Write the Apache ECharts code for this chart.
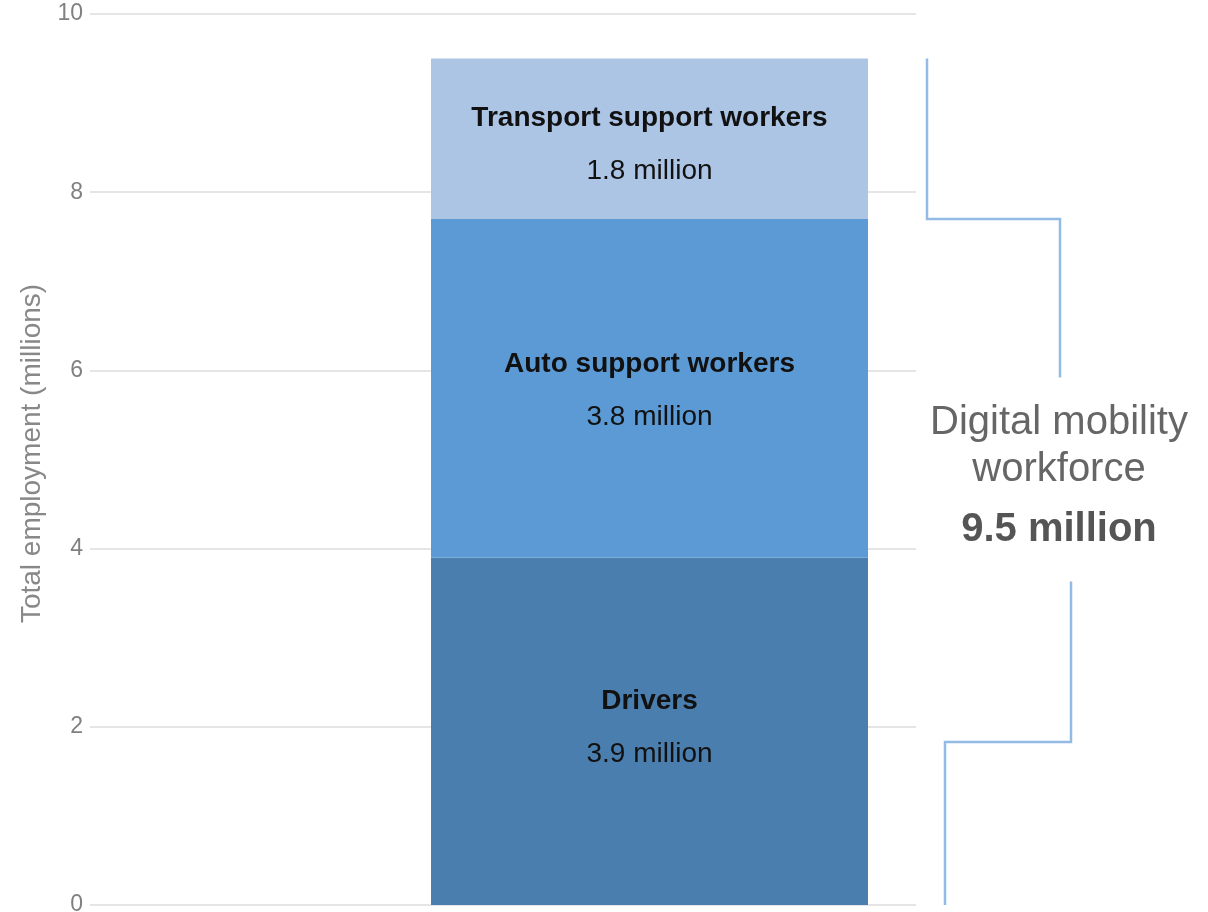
<!DOCTYPE html>
<html>
<head>
<meta charset="utf-8">
<script src="https://cdn.jsdelivr.net/npm/echarts@6/dist/echarts.min.js"></script>
<style>
  html, body { margin: 0; padding: 0; background: #fff; }
  #main { width: 1208px; height: 912px; }
</style>
</head>
<body>
<div id="main"></div>
<script>
// data
var categories = ['Digital mobility workforce'];
var seriesNames = ['Drivers', 'Auto support workers', 'Transport support workers'];
var driversValues = [3.9];
var autoValues = [3.8];
var transportValues = [1.8];
var yMin = 0, yMax = 10, yStep = 2;

var colors = ['#4a7eae', '#5b9ad5', '#adc5e5'];
var fontFam = '"Liberation Sans", Arial, sans-serif';
var total = driversValues[0] + autoValues[0] + transportValues[0];

function makeSeries(name, values, color, labelShift) {
    return {
        name: name,
        type: 'bar',
        stack: 'total',
        xAxisIndex: 1,
        yAxisIndex: 1,
        barWidth: '100%',
        data: values,
        itemStyle: { color: color },
        label: {
            show: true,
            position: 'inside',
            offset: [0, labelShift],
            formatter: function (p) {
                return '{n|' + p.seriesName + '}\n{v|' + p.value + ' million}';
            },
            rich: {
                n: { fontFamily: fontFam, fontSize: 28, fontWeight: 'bold', color: '#111', lineHeight: 53 },
                v: { fontFamily: fontFam, fontSize: 28, color: '#111', lineHeight: 53 }
            }
        },
        silent: true
    };
}

var chart = echarts.init(document.getElementById('main'));
var option = {
    animation: false,
    backgroundColor: '#fff',
    grid: [
        { left: 90, right: 292, top: 14, bottom: 7, outerBoundsMode: 'none' },
        { left: 431, right: 340, top: 14, bottom: 7, outerBoundsMode: 'none' }
    ],
    xAxis: [
        { gridIndex: 0, type: 'category', data: categories, show: false },
        { gridIndex: 1, type: 'category', data: categories, show: false }
    ],
    yAxis: [
        {
            gridIndex: 0,
            type: 'value',
            min: yMin, max: yMax, interval: yStep,
            name: 'Total employment (millions)',
            nameLocation: 'middle',
            nameGap: 42,
            nameTextStyle: { fontFamily: fontFam, fontSize: 28, color: '#888', padding: [0, 0, 0, 12] },
            axisLine: { show: false },
            axisTick: { show: false },
            axisLabel: { fontFamily: fontFam, fontSize: 23, color: '#808080', margin: 7 },
            splitLine: { lineStyle: { color: '#dcdcdc', width: 1.5 } }
        },
        {
            gridIndex: 1,
            type: 'value',
            min: yMin, max: yMax, interval: yStep,
            show: false,
            splitLine: { show: false }
        }
    ],
    series: [
        makeSeries(seriesNames[0], driversValues, colors[0], -3),
        makeSeries(seriesNames[1], autoValues, colors[1], 3),
        makeSeries(seriesNames[2], transportValues, colors[2], 6)
    ]
};
chart.setOption(option);

// bracket annotation on the right
function py(v) { return chart.convertToPixel({ yAxisIndex: 0 }, v); }
var knee = driversValues[0] + autoValues[0];
var bracketStyle = { stroke: '#93bbe6', lineWidth: 2.5, fill: null };
chart.setOption({
    graphic: [
        {
            type: 'polyline',
            shape: { points: [[927, py(total)], [927, py(knee)], [1060, py(knee)], [1060, py(5.92)]] },
            style: bracketStyle
        },
        {
            type: 'polyline',
            shape: { points: [[1071, py(3.63)], [1071, py(1.83)], [945, py(1.83)], [945, py(0)]] },
            style: bracketStyle
        },
        {
            type: 'text',
            x: 1059, y: 399,
            style: {
                text: 'Digital mobility\nworkforce',
                font: '40px ' + fontFam,
                fill: '#666',
                align: 'center',
                lineHeight: 47
            }
        },
        {
            type: 'text',
            x: 1059, y: 510,
            style: {
                text: total.toFixed(1) + ' million',
                font: 'bold 40px ' + fontFam,
                fill: '#555',
                align: 'center'
            }
        }
    ]
});
</script>
</body>
</html>
